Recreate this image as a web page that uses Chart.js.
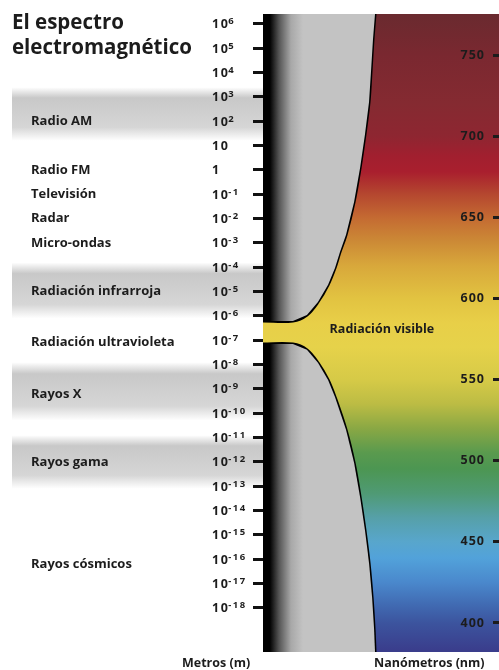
<!DOCTYPE html>
<html lang="es">
<head>
<meta charset="UTF-8" />
<title>El espectro electromagnético</title>
<script src="https://cdn.jsdelivr.net/npm/chart.js"></script>
<style>
  html, body { margin: 0; padding: 0; background: #fff; }
  #espectro { display: block; }
</style>
</head>
<body>
<canvas id="espectro" width="499" height="670"></canvas>
<script>
  // Eje izquierdo: potencias de 10 (metros)
  const exponentes = [6, 5, 4, 3, 2, 1, 0, -1, -2, -3, -4, -5, -6, -7, -8, -9, -10, -11, -12, -13, -14, -15, -16, -17, -18];

  // Categorías del espectro y su posición (exponente)
  const categorias = ['Radio AM', 'Radio FM', 'Televisión', 'Radar', 'Micro-ondas',
    'Radiación infrarroja', 'Radiación ultravioleta', 'Rayos X', 'Rayos gama', 'Rayos cósmicos'];
  const posCategorias = [2, 0, -1, -2, -3, -5, -7.1, -9.2, -12, -16.2];

  // Franjas grises detrás de algunas categorías (exponente superior / inferior)
  const franjasDesde = [3.4, -3.8, -7.9, -10.9];
  const franjasHasta = [1.2, -6.1, -10.3, -13.1];

  // Eje derecho: nanómetros
  const nmTicks = [400, 450, 500, 550, 600, 650, 700, 750];

  // Colores del espectro visible por longitud de onda
  const nmStops = [775, 750, 720, 700, 688, 678, 665, 650, 635, 620, 600, 585, 570, 550, 535, 520, 505, 495, 480, 465, 450, 440, 425, 410, 400, 383];
  const nmColores = ['#6a2a2f', '#7a2830', '#852a31', '#8e2631', '#a11f2f', '#a91f2e', '#b4452f', '#c46a32', '#cc8a36', '#d8a83b',
    '#e2c341', '#e8cf48', '#e6d24a', '#d6ca47', '#bcbc44', '#8aa844', '#5a9a4e', '#4c9652', '#4f9a74', '#56a0a8',
    '#58a6cc', '#52a2da', '#4a88cc', '#4068b0', '#3c549e', '#3a3d8c'];

  // Borde de la zona gris superior (ancho % / nm)
  const supAncho = [48.7, 47.8, 47.0, 46.1, 44.3, 42.2, 39.6, 36.1, 33.5, 31.3, 28.3, 23.9, 19.1, 13.0, 0];
  const supNm = [775.3, 759.3, 740.8, 721.1, 700.8, 680.4, 659.5, 639.2, 628.7, 618.8, 608.4, 597.8, 589.8, 586.1, 586.1];

  // Borde de la zona gris inferior
  const infAncho = [0, 13.0, 19.1, 23.9, 28.3, 31.3, 36.1, 39.6, 42.2, 44.3, 46.1, 47.4, 48.3, 48.7];
  const infNm = [571.9, 571.9, 568.3, 560.3, 549.8, 539.3, 519.0, 498.7, 477.7, 457.4, 437.0, 416.1, 395.8, 382.1];

  const nmMin = 382.1, nmMax = 775.3;
  const expMin = -19.81, expMax = 6.41;

  const FUENTE = '"Open Sans", "Liberation Sans", sans-serif';
  const TEXTO = '#1c1c1c';

  const curva = (xs, ys) => xs.map((x, i) => ({ x: x, y: ys[i] }));

  function rellenoGris(ctx) {
    const area = ctx.chart.chartArea;
    if (!area) return '#c3c3c3';
    const g = ctx.chart.ctx.createLinearGradient(area.left, 0, area.left + 40, 0);
    g.addColorStop(0, '#000');
    g.addColorStop(0.17, '#000');
    g.addColorStop(0.4, '#555');
    g.addColorStop(0.7, '#a8a8a8');
    g.addColorStop(1, '#c3c3c3');
    return g;
  }

  const fondo = {
    id: 'fondo',
    beforeDraw(chart) {
      const { ctx, chartArea: a } = chart;
      const yNm = chart.scales.yNm;
      const yM = chart.scales.yM;
      ctx.save();
      // espectro de colores
      const g = ctx.createLinearGradient(0, a.top, 0, a.bottom);
      nmStops.forEach((nm, i) => {
        const t = (yNm.getPixelForValue(nm) - a.top) / (a.bottom - a.top);
        g.addColorStop(Math.min(1, Math.max(0, t)), nmColores[i]);
      });
      ctx.fillStyle = g;
      ctx.fillRect(a.left, a.top, chart.width - a.left, a.bottom - a.top);
      // franjas grises a la izquierda
      franjasDesde.forEach((desde, i) => {
        const y1 = yM.getPixelForValue(desde);
        const y2 = yM.getPixelForValue(franjasHasta[i]);
        const fg = ctx.createLinearGradient(0, y1, 0, y2);
        fg.addColorStop(0, 'rgba(255,255,255,1)');
        fg.addColorStop(0.2, '#c8c8c8');
        fg.addColorStop(0.75, '#d6d6d6');
        fg.addColorStop(1, 'rgba(255,255,255,1)');
        ctx.fillStyle = fg;
        ctx.fillRect(12, y1, a.left - 12, y2 - y1);
      });
      ctx.restore();
    }
  };

  const textos = {
    id: 'textos',
    afterDraw(chart) {
      const { ctx } = chart;
      const yM = chart.scales.yM;
      const yNm = chart.scales.yNm;
      const x = chart.scales.x;
      ctx.save();
      ctx.fillStyle = TEXTO;
      ctx.textAlign = 'left';
      ctx.textBaseline = 'alphabetic';

      // título
      ctx.font = 'bold 20.5px ' + FUENTE;
      ctx.fillText('El espectro', 12, 29);
      ctx.fillText('electromagnético', 12, 54);

      // categorías
      ctx.font = 'bold 13px ' + FUENTE;
      ctx.textBaseline = 'middle';
      categorias.forEach((c, i) => ctx.fillText(c, 31, yM.getPixelForValue(posCategorias[i])));

      // etiquetas 10^n
      ctx.textBaseline = 'alphabetic';
      if ('letterSpacing' in ctx) ctx.letterSpacing = '1.5px';
      exponentes.forEach(e => {
        const y = yM.getPixelForValue(e);
        const base = e === 0 ? '1' : '10';
        ctx.font = 'bold 12.5px ' + FUENTE;
        ctx.fillText(base, 212, y + 4.5);
        if (e !== 0 && e !== 1) {
          const w = ctx.measureText(base).width;
          ctx.font = 'bold 9.5px ' + FUENTE;
          ctx.fillText(e < 0 ? '-' + (-e) : String(e), 211 + w, y + 0.5);
        }
      });

      // etiquetas nm
      ctx.letterSpacing = '1px';
      ctx.font = 'bold 12.5px ' + FUENTE;
      ctx.textAlign = 'right';
      ctx.textBaseline = 'middle';
      nmTicks.forEach(v => ctx.fillText(String(v), 485, yNm.getPixelForValue(v)));
      if ('letterSpacing' in ctx) ctx.letterSpacing = '0px';

      // zona visible
      ctx.font = 'bold 12.5px ' + FUENTE;
      ctx.textAlign = 'center';
      ctx.fillText('Radiación visible', x.getPixelForValue(51.7), yNm.getPixelForValue(580.6));

      // unidades
      ctx.textAlign = 'left';
      ctx.font = 'bold 12.5px ' + FUENTE;
      ctx.fillText('Metros (m)', 182, 663);
      ctx.fillText('Nanómetros (nm)', 374, 663);
      ctx.restore();
    }
  };

  new Chart(document.getElementById('espectro'), {
    type: 'scatter',
    data: {
      datasets: [
        {
          data: [{ x: 0, y: nmMax }].concat(curva(supAncho, supNm)),
          showLine: true, fill: 'shape', tension: 0, borderWidth: 0,
          backgroundColor: rellenoGris, pointRadius: 0, yAxisID: 'yNm'
        },
        {
          data: curva(infAncho, infNm).concat([{ x: 0, y: nmMin }]),
          showLine: true, fill: 'shape', tension: 0, borderWidth: 0,
          backgroundColor: rellenoGris, pointRadius: 0, yAxisID: 'yNm'
        },
        {
          data: curva(supAncho, supNm),
          showLine: true, fill: false, tension: 0.35, borderWidth: 3,
          borderColor: '#000', pointRadius: 0, yAxisID: 'yNm'
        },
        {
          data: curva(infAncho, infNm),
          showLine: true, fill: false, tension: 0.35, borderWidth: 3,
          borderColor: '#000', pointRadius: 0, yAxisID: 'yNm'
        }
      ]
    },
    options: {
      responsive: false,
      animation: false,
      events: [],
      layout: { padding: { top: 14, bottom: 18, left: 0, right: 0 } },
      plugins: { legend: { display: false }, tooltip: { enabled: false } },
      scales: {
        x: { type: 'linear', display: false, min: 0, max: 100 },
        yM: {
          type: 'linear', position: 'left', min: expMin, max: expMax,
          afterBuildTicks: s => { s.ticks = exponentes.map(v => ({ value: v })); },
          afterFit: s => { s.width = 263; },
          ticks: { callback: () => '' },
          grid: { drawOnChartArea: false, tickLength: 10, tickWidth: 3, tickColor: '#111' },
          border: { display: false }
        },
        yNm: {
          type: 'linear', position: 'right', min: nmMin, max: nmMax,
          afterBuildTicks: s => { s.ticks = nmTicks.map(v => ({ value: v })); },
          afterFit: s => { s.width = 6; },
          ticks: { callback: () => '' },
          grid: { drawOnChartArea: false, tickLength: 6, tickWidth: 3, tickColor: '#1c1c1c' },
          border: { display: false }
        }
      }
    },
    plugins: [fondo, textos]
  });
</script>
</body>
</html>
